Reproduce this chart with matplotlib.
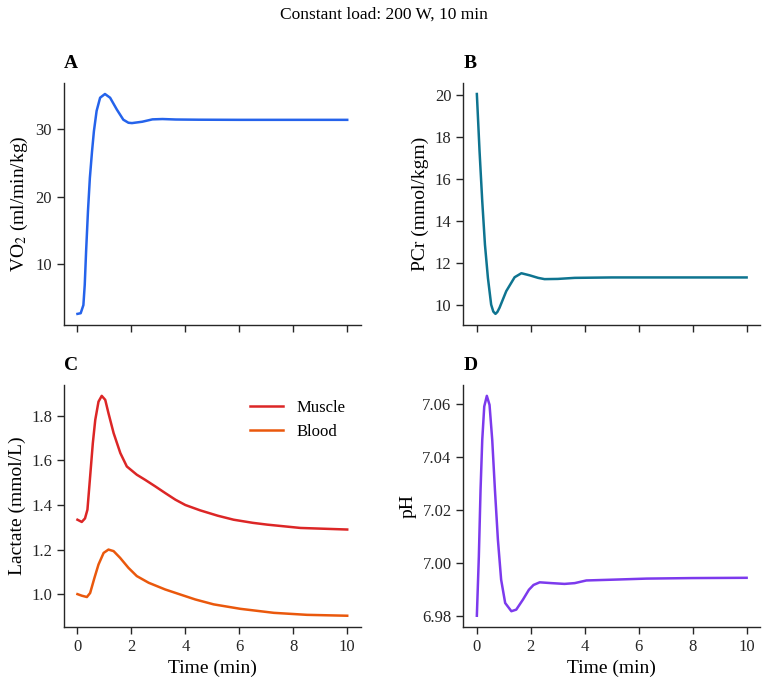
import matplotlib
matplotlib.use("Agg")
import matplotlib.pyplot as plt

# values
t_vo2 = [0, 0.12, 0.22, 0.27, 0.32, 0.39, 0.46, 0.54, 0.61, 0.71, 0.84, 1.02, 1.21, 1.46,
         1.70, 1.89, 2.02, 2.4, 2.78, 3.15, 3.65, 4.5, 6, 8, 10]
vo2 = [2.7, 2.8, 4.0, 7.0, 11.9, 17.9, 22.8, 26.7, 29.7, 32.7, 34.65, 35.2, 34.65, 32.9,
       31.4, 30.95, 30.9, 31.1, 31.45, 31.5, 31.43, 31.4, 31.38, 31.38, 31.38]

t_pcr = [0, 0.1, 0.2, 0.3, 0.41, 0.53, 0.61, 0.69, 0.76, 0.84, 1.09, 1.4, 1.65, 1.96,
         2.27, 2.51, 3.0, 3.63, 5, 7, 10]
pcr = [20.03, 17.31, 14.94, 12.88, 11.3, 10.03, 9.7, 9.59, 9.68, 9.88, 10.67, 11.33, 11.52,
       11.42, 11.3, 11.24, 11.25, 11.3, 11.32, 11.32, 11.32]

t_muscle = [0, 0.16, 0.28, 0.37, 0.47, 0.57, 0.66, 0.78, 0.9, 1.03, 1.15, 1.34, 1.59, 1.83,
            2.2, 2.51, 2.88, 3.25, 3.63, 4.0, 4.55, 5.2, 5.79, 6.5, 7.03, 8.27, 10]
lac_muscle = [1.334, 1.324, 1.340, 1.379, 1.528, 1.678, 1.782, 1.864, 1.89, 1.872, 1.812,
              1.723, 1.633, 1.573, 1.536, 1.513, 1.484, 1.454, 1.424, 1.40, 1.376, 1.352,
              1.334, 1.320, 1.312, 1.297, 1.290]

t_blood = [0, 0.16, 0.35, 0.47, 0.63, 0.78, 0.97, 1.15, 1.34, 1.58, 1.89, 2.2, 2.64, 3.25,
           3.87, 4.37, 5.05, 6.04, 7.28, 8.51, 10]
lac_blood = [1.0, 0.993, 0.987, 1.005, 1.073, 1.133, 1.185, 1.2, 1.193, 1.163, 1.118, 1.081,
             1.051, 1.021, 0.996, 0.976, 0.954, 0.934, 0.916, 0.907, 0.903]

t_ph = [0, 0.074, 0.137, 0.2, 0.274, 0.37, 0.47, 0.57, 0.67, 0.78, 0.9, 1.05, 1.28, 1.46,
        1.71, 1.93, 2.1, 2.33, 2.76, 3.25, 3.63, 4.06, 5.05, 6.29, 8, 10]
ph = [6.9802, 7.0026, 7.0277, 7.0465, 7.0591, 7.0631, 7.0597, 7.0465, 7.0277, 7.0089,
      6.9938, 6.985, 6.9819, 6.9825, 6.9863, 6.99, 6.9918, 6.9928, 6.9925, 6.9922,
      6.9925, 6.9935, 6.9938, 6.9942, 6.9944, 6.9945]

plt.rcParams['font.family'] = ['Liberation Serif', 'DejaVu Serif']
plt.rcParams['mathtext.fontset'] = 'stix'
plt.rcParams['font.size'] = 12
plt.rcParams['axes.edgecolor'] = '#262626'
plt.rcParams['xtick.color'] = '#262626'
plt.rcParams['ytick.color'] = '#262626'
plt.rcParams['xtick.major.size'] = 5
plt.rcParams['ytick.major.size'] = 5
plt.rcParams['xtick.major.width'] = 1.0
plt.rcParams['ytick.major.width'] = 1.0
plt.rcParams['axes.linewidth'] = 1.0

fig, axes = plt.subplots(2, 2, figsize=(7.67, 6.86), dpi=100, sharex=True)
fig.subplots_adjust(left=0.0834, right=0.991, top=0.879, bottom=0.0864,
                    wspace=0.346, hspace=0.248)
fig.suptitle("Constant load: 200 W, 10 min", fontsize=12.5, y=0.99)

lw = 1.8
axA, axB, axC, axD = axes.flat
axA.plot(t_vo2, vo2, color='#2563eb', lw=lw)
axA.set_ylabel(r'VO$_2$ (ml/min/kg)', fontsize=14)

axB.plot(t_pcr, pcr, color='#0e7490', lw=lw)
axB.set_ylabel('PCr (mmol/kgm)', fontsize=14)

axC.plot(t_muscle, lac_muscle, color='#dc2626', lw=lw, label='Muscle')
axC.plot(t_blood, lac_blood, color='#ea580c', lw=lw, label='Blood')
axC.set_ylabel('Lactate (mmol/L)', fontsize=14)
axC.legend(frameon=False, loc='upper right', fontsize=12)

axD.plot(t_ph, ph, color='#7c3aed', lw=lw)
axD.set_ylabel('pH', fontsize=14)
axD.set_yticks([6.98, 7.00, 7.02, 7.04, 7.06])

for ax, letter in zip(axes.flat, 'ABCD'):
    ax.set_title(letter, loc='left', fontweight='bold', fontsize=14, pad=11)
    ax.spines['top'].set_visible(False)
    ax.spines['right'].set_visible(False)
    ax.set_xticks([0, 2, 4, 6, 8, 10])

for ax in (axC, axD):
    ax.set_xlabel('Time (min)', fontsize=14)

plt.savefig("out.png", dpi=100)
